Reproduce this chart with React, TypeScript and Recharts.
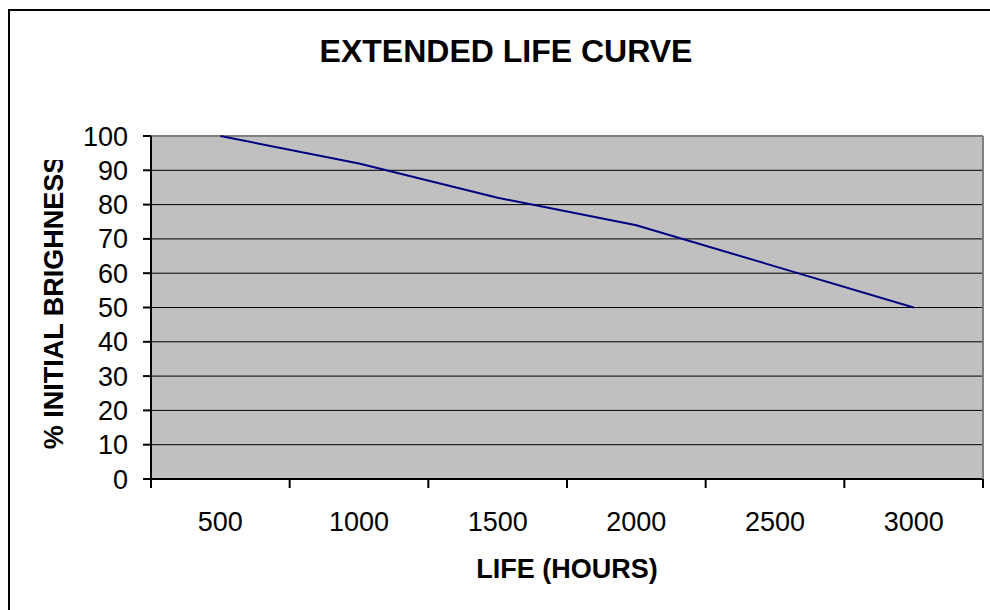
import React from 'react';
import { LineChart, Line, XAxis, YAxis, CartesianGrid, Label } from 'recharts';

const hours = ['500', '1000', '1500', '2000', '2500', '3000'];
const brightness = [100, 92, 82, 74, 62, 50];
const yTicks = [0, 10, 20, 30, 40, 50, 60, 70, 80, 90, 100];
const innerGridValues = [10, 20, 30, 40, 50, 60, 70, 80, 90];

const data = hours.map((h, i) => ({ hours: h, brightness: brightness[i] }));

const FONT = '"Liberation Sans", Arial, Helvetica, sans-serif';

const XTick = (props: any) => {
  const { x, y, payload, width, visibleTicksCount, index } = props;
  const count = visibleTicksCount || hours.length;
  const half = payload && typeof payload.offset === 'number' && payload.offset > 0 ? payload.offset : width / (2 * count);
  const isLast = index === count - 1;
  return (
    <g>
      <line x1={x - half} x2={x - half} y1={y} y2={y + 9} stroke="#000" strokeWidth={2} />
      {isLast && <line x1={x + half} x2={x + half} y1={y} y2={y + 9} stroke="#000" strokeWidth={2} />}
      <text x={x} y={y + 33} dy="0.71em" textAnchor="middle" fontFamily={FONT} fontSize={27} fill="#000">
        {payload.value}
      </text>
    </g>
  );
};

const YLabel = (props: any) => {
  const vb = props.viewBox || { x: 0, y: 136, width: 151, height: 343 };
  const cx = vb.x + 63;
  const cy = vb.y + vb.height / 2 - 5;
  return (
    <g>
      <defs>
        <clipPath id="ylabel-clip">
          <rect x={0} y={160} width={150} height={450} />
        </clipPath>
      </defs>
      <g clipPath="url(#ylabel-clip)">
        <text
          x={cx}
          y={cy}
          transform={`rotate(-90, ${cx}, ${cy})`}
          textAnchor="middle"
          fontFamily={FONT}
          fontWeight="bold"
          fontSize={27}
          fill="#000"
        >
          % INITIAL BRIGHNESS
        </text>
      </g>
    </g>
  );
};

const XLabel = (props: any) => {
  const vb = props.viewBox || { x: 151, y: 479, width: 832, height: 131 };
  return (
    <text
      x={vb.x + vb.width / 2}
      y={vb.y + 99}
      textAnchor="middle"
      fontFamily={FONT}
      fontWeight="bold"
      fontSize={27}
      fill="#000"
    >
      LIFE (HOURS)
    </text>
  );
};

export default function App() {
  return (
    <div style={{ position: 'fixed', left: 0, top: 0, width: 990, height: 610, overflow: 'hidden', background: '#fff', fontFamily: FONT }}>
      <div style={{ position: 'absolute', left: 8, top: 9, width: 1100, height: 700, border: '2px solid #000', boxSizing: 'border-box' }} />
      <div
        style={{
          position: 'absolute',
          left: 0,
          top: 35,
          width: 1012,
          textAlign: 'center',
          fontSize: 32,
          lineHeight: '32px',
          fontWeight: 'bold',
          color: '#000',
          fontFamily: FONT,
        }}
      >
        EXTENDED LIFE CURVE
      </div>
      <div style={{ position: 'absolute', left: 0, top: 0 }}>
        <LineChart width={990} height={610} data={data} margin={{ top: 136, right: 5, left: 0, bottom: 0 }}>
          <CartesianGrid
            fill="#C0C0C0"
            fillOpacity={1}
            vertical={false}
            horizontalValues={innerGridValues}
            stroke="#000"
            strokeWidth={1}
          />
          <CartesianGrid
            vertical={false}
            horizontalValues={[100]}
            stroke="#808080"
            strokeWidth={2}
          />
          <XAxis
            dataKey="hours"
            type="category"
            scale="band"
            interval={0}
            axisLine={{ stroke: '#000', strokeWidth: 2 }}
            tickLine={false}
            tickSize={0}
            tickMargin={0}
            height={131}
            tick={<XTick />}
          >
            <Label content={XLabel} />
          </XAxis>
          <YAxis
            domain={[0, 100]}
            ticks={yTicks}
            interval={0}
            width={151}
            tickSize={8}
            tickMargin={15}
            axisLine={{ stroke: '#000', strokeWidth: 2 }}
            tickLine={{ stroke: '#000', strokeWidth: 2 }}
            tick={{ fontSize: 27, fill: '#000', fontFamily: FONT }}
          >
            <Label content={YLabel} />
          </YAxis>
          <YAxis
            yAxisId="frame"
            orientation="right"
            domain={[0, 100]}
            width={2}
            tick={false}
            tickLine={false}
            axisLine={{ stroke: '#808080', strokeWidth: 2 }}
          />
          <Line
            type="linear"
            dataKey="brightness"
            stroke="#000080"
            strokeWidth={2}
            dot={false}
            activeDot={false}
            isAnimationActive={false}
          />
        </LineChart>
      </div>
    </div>
  );
}
